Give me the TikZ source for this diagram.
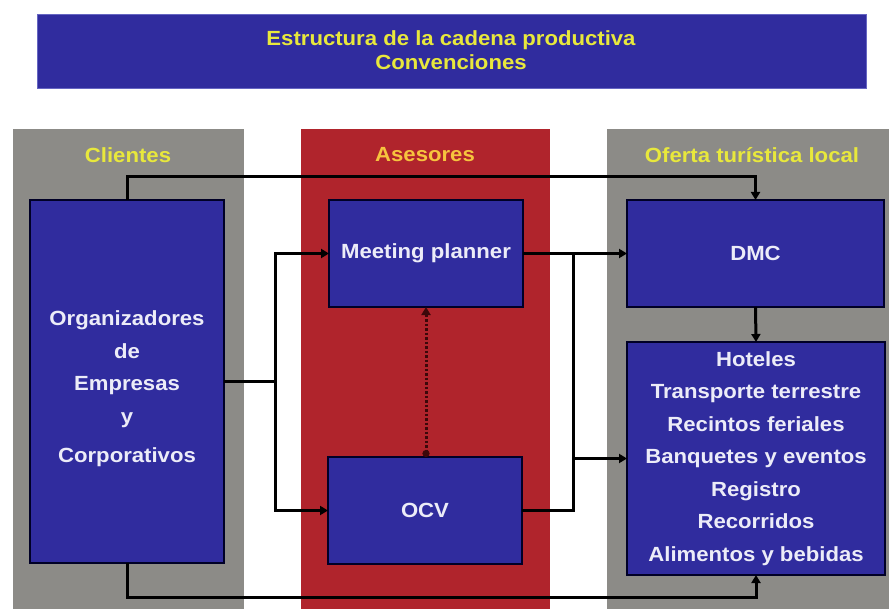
\documentclass[tikz,border=0pt]{standalone}
\usepackage{fontspec}
\setmainfont{Liberation Sans}[FakeStretch=1.08]
\usetikzlibrary{arrows.meta,calc}
\definecolor{boxblue}{RGB}{48,44,158}
\definecolor{colgrey}{RGB}{140,139,135}
\definecolor{colred}{RGB}{176,36,44}
\definecolor{hdryellow}{RGB}{232,232,60}
\definecolor{hdrorange}{RGB}{246,196,62}
\definecolor{boxtext}{RGB}{236,236,248}
\definecolor{dotred}{RGB}{60,8,10}
\tikzset{
  column/.style={fill=#1, draw=none},
  bluebox/.style={draw=black!85!blue, line width=1.8pt, fill=boxblue, inner sep=0pt, outer sep=0pt, anchor=north west},
  txt/.style={text=boxtext, font=\bfseries\fontsize{20.5}{32.5}\selectfont, align=center},
  hdr/.style={font=\bfseries\fontsize{20.5}{24}\selectfont, align=center},
  conn/.style={line width=3pt, draw=black},
  arr/.style={conn, -{Triangle[length=8pt,width=9pt]}},
}
\begin{document}
\begin{tikzpicture}[x=1pt,y=-1pt]
\useasboundingbox (0,0) rectangle (890,609);
\fill[white] (0,0) rectangle (890,609);
% title
\node[draw=black!40!blue!60, line width=1pt, fill=boxblue, minimum width=829pt, minimum height=74pt, anchor=north west, inner sep=0pt] (title) at (37,14) {};
\node[hdr, text=hdryellow] (titletext) at (451,50) {Estructura de la cadena productiva\\Convenciones};
% columns
\fill[column=colgrey] (13,129) rectangle (244,609);
\fill[column=colred] (301,129) rectangle (550,609);
\fill[column=colgrey] (607,129) rectangle (889,609);
\node[hdr, text=hdryellow] (hclientes) at (128,155) {Clientes};
\node[hdr, text=hdrorange] (hasesores) at (425,155) {Asesores};
\node[hdr, text=hdryellow] (hoferta) at (752,155) {Oferta turística local};
% boxes
\node[bluebox, minimum width=194pt, minimum height=363pt] (org) at (30,200) {};
\node[txt] (orgtext) at (127,389) {Organizadores\\de\\Empresas\\y\\[7pt]Corporativos};
\node[bluebox, minimum width=194pt, minimum height=107pt] (mp) at (329,200) {};
\node[txt] (mptext) at (mp.center) {Meeting planner};
\node[bluebox, minimum width=194pt, minimum height=107pt] (ocv) at (328,457) {};
\node[txt] (ocvtext) at (ocv.center) {OCV};
\node[bluebox, minimum width=257pt, minimum height=107pt] (dmc) at (627,200) {};
\node[txt] (dmctext) at (dmc.center) {DMC};
\node[bluebox, minimum width=258pt, minimum height=233pt] (hot) at (627,342) {};
\node[txt] (hottext) at (hot.center) {Hoteles\\Transporte terrestre\\Recintos feriales\\Banquetes y eventos\\Registro\\Recorridos\\Alimentos y bebidas};
% connectors
\coordinate (ttop) at (0,177);
\draw[arr] (org.north) -- (org.north |- ttop) -| (dmc.north);
\coordinate (bbot) at (0,597);
\draw[arr] (org.south) -- (org.south |- bbot) -| (hot.south);
\coordinate (jlx) at (275,0);
\coordinate (jl) at (org.east -| jlx);
\draw[conn] (org.east) -- (jl);
\draw[arr] (jl) |- (mp.west);
\draw[arr] (jl) |- (ocv.west);
\draw[arr] (mp.east) -- (dmc.west);
\coordinate (jrx) at (573,0);
\coordinate (jr) at (mp.east -| jrx);
\draw[conn] (ocv.east) -| (jr);
\coordinate (jh) at (hot.west -| jrx);
\draw[arr] (jh) -- (hot.west);
\draw[arr] (dmc.south) -- (hot.north);
\draw[line width=3pt, draw=dotred, dash pattern=on 2.5pt off 2pt, {Triangle[length=8pt,width=9pt]}-{Circle[length=7pt]}] (mp.south) -- (mp.south |- ocv.north);
\end{tikzpicture}
\end{document}
